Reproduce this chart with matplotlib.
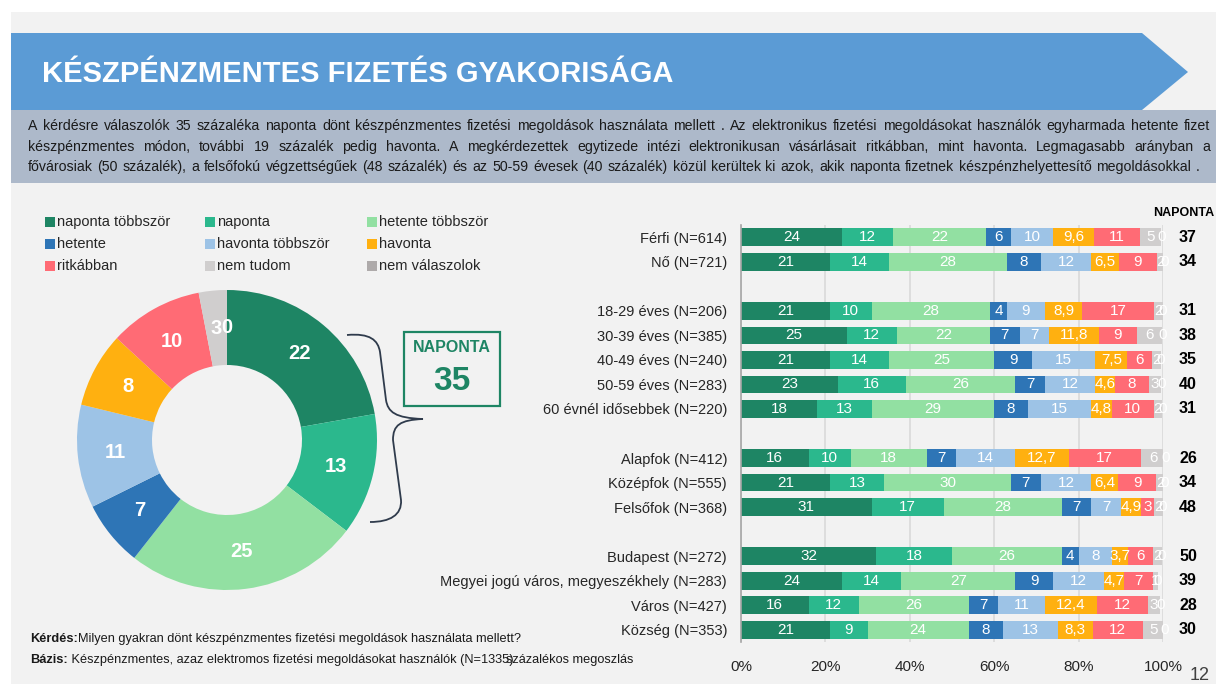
import matplotlib
matplotlib.use('Agg')
import matplotlib.pyplot as plt
from matplotlib import font_manager as fm
from matplotlib.patches import Rectangle, Polygon, PathPatch
from matplotlib.path import Path
from matplotlib.transforms import blended_transform_factory
import numpy as np

# ---------------- data ----------------
series_names = ['naponta többször', 'naponta', 'hetente többször',
                'hetente', 'havonta többször', 'havonta',
                'ritkábban', 'nem tudom', 'nem válaszolok']
series_colors = ['#1e8564', '#2bb88d', '#92e0a2',
                 '#2e75b6', '#9dc3e6', '#ffb010',
                 '#ff6b75', '#d0cece', '#aeaaaa']

donut_values = [22, 13, 25, 7, 11, 8, 10, 3, 0]
naponta_total = 35

groups = [
    ['Férfi (N=614)', 'Nő (N=721)'],
    ['18-29 éves (N=206)', '30-39 éves (N=385)', '40-49 éves (N=240)',
     '50-59 éves (N=283)', '60 évnél idősebbek (N=220)'],
    ['Alapfok (N=412)', 'Középfok (N=555)', 'Felsőfok (N=368)'],
    ['Budapest (N=272)', 'Megyei jogú város, megyeszékhely (N=283)',
     'Város (N=427)', 'Község (N=353)'],
]
naponta_tobbszor = [24, 21, 21, 25, 21, 23, 18, 16, 21, 31, 32, 24, 16, 21]
naponta = [12, 14, 10, 12, 14, 16, 13, 10, 13, 17, 18, 14, 12, 9]
hetente_tobbszor = [22, 28, 28, 22, 25, 26, 29, 18, 30, 28, 26, 27, 26, 24]
hetente = [6, 8, 4, 7, 9, 7, 8, 7, 7, 7, 4, 9, 7, 8]
havonta_tobbszor = [10, 12, 9, 7, 15, 12, 15, 14, 12, 7, 8, 12, 11, 13]
havonta = [9.6, 6.5, 8.9, 11.8, 7.5, 4.6, 4.8, 12.7, 6.4, 4.9, 3.7, 4.7, 12.4, 8.3]
ritkabban = [11, 9, 17, 9, 6, 8, 10, 17, 9, 3, 6, 7, 12, 12]
nem_tudom = [5, 2, 2, 6, 2, 3, 2, 6, 2, 2, 2, 1, 3, 5]
nem_valaszolok = [0, 0, 0, 0, 0, 0, 0, 0, 0, 0, 0, 0, 0, 0]
naponta_col = [37, 34, 31, 38, 35, 40, 31, 26, 34, 48, 50, 39, 28, 30]
xtick_vals = [0, 20, 40, 60, 80, 100]
xtick_labels = ['0%', '20%', '40%', '60%', '80%', '100%']

title = 'KÉSZPÉNZMENTES FIZETÉS GYAKORISÁGA'
desc_lines = [
    'A kérdésre válaszolók 35 százaléka naponta dönt készpénzmentes fizetési megoldások használata mellett . Az elektronikus fizetési megoldásokat használók egyharmada hetente fizet',
    'készpénzmentes módon, további 19 százalék pedig havonta. A megkérdezettek egytizede intézi elektronikusan vásárlásait ritkábban, mint havonta. Legmagasabb arányban a',
    'fővárosiak (50 százalék), a felsőfokú végzettségűek (48 százalék) és az 50-59 évesek (40 százalék) közül kerültek ki azok, akik naponta fizetnek készpénzhelyettesítő megoldásokkal .',
]

# ---------------- fonts ----------------
names = {f.name for f in fm.fontManager.ttflist}
NARROW = 'Liberation Sans Narrow' if 'Liberation Sans Narrow' in names else 'Liberation Sans'
plt.rcParams['font.family'] = [NARROW, 'DejaVu Sans']
TXT = '#262626'

W, H = 1216, 684
fig = plt.figure(figsize=(W / 100, H / 100), dpi=100, facecolor='white')

ov = fig.add_axes([0, 0, 1, 1], zorder=0)
ov.set_xlim(0, W)
ov.set_ylim(H, 0)
ov.axis('off')

def fx(px):
    return px / W

def fy(py):
    return 1 - py / H

# backgrounds
ov.add_patch(Rectangle((11, 12), W - 11, H - 12, color='#f2f2f2', lw=0))
ov.add_patch(Polygon([(11, 33), (1142, 33), (1188, 72), (1142, 110), (11, 110)],
                     closed=True, color='#5b9bd5', lw=0))
ov.add_patch(Rectangle((11, 110), W - 11, 73, color='#adb9ca', lw=0))
ov.text(42, 74, title, color='white', fontsize=21, fontweight='bold',
        va='center', ha='left')

# justified description
renderer = fig.canvas.get_renderer()
line_y = [126, 147, 167]
line_end = [1210, 1210, 1200]
for line, y, x1 in zip(desc_lines, line_y, line_end):
    words = line.split(' ')
    objs = [ov.text(0, y, w, fontsize=10.2, color='#1a1a1a', va='center', ha='left')
            for w in words]
    widths = [o.get_window_extent(renderer).width for o in objs]
    x0 = 28
    gap = (x1 - x0 - sum(widths)) / (len(words) - 1)
    x = x0
    for o, wd in zip(objs, widths):
        o.set_x(x)
        x += wd + gap

# legend
leg_cols = [45, 205, 367]
leg_rows = [222, 244, 266]
for i, (nm, col) in enumerate(zip(series_names, series_colors)):
    r, c = divmod(i, 3)
    ov.add_patch(Rectangle((leg_cols[c], leg_rows[r] - 5), 10, 10, color=col, lw=0))
    ov.text(leg_cols[c] + 12, leg_rows[r], nm, fontsize=10.5, color=TXT,
            va='center', ha='left')

# ---------------- donut ----------------
dax = fig.add_axes([fx(77), fy(590), 300 / W, 300 / H], zorder=2)
wedges, _ = dax.pie(donut_values, colors=series_colors, startangle=90,
                    counterclock=False, radius=1,
                    wedgeprops=dict(width=0.5, linewidth=0))
dax.set_xlim(-1, 1)
dax.set_ylim(-1, 1)
dax.set_aspect('equal')
dax.axis('off')
for w, v in zip(wedges, donut_values):
    ang = np.deg2rad((w.theta1 + w.theta2) / 2)
    dax.text(0.75 * np.cos(ang), 0.75 * np.sin(ang), str(v), color='white',
             fontsize=14.5, fontweight='bold', ha='center', va='center')

# brace
verts = [(347, 335), (370, 333), (378, 340), (380, 352),
         (386, 400),
         (388, 412), (395, 418), (423, 419),
         (400, 420), (393, 425), (393, 440),
         (401, 500),
         (402, 515), (390, 522), (370, 522)]
codes = [Path.MOVETO, Path.CURVE4, Path.CURVE4, Path.CURVE4,
         Path.LINETO,
         Path.CURVE4, Path.CURVE4, Path.CURVE4,
         Path.CURVE4, Path.CURVE4, Path.CURVE4,
         Path.LINETO,
         Path.CURVE4, Path.CURVE4, Path.CURVE4]
ov.add_patch(PathPatch(Path(verts, codes), fill=False, edgecolor='#2f3b4c', lw=1.3))

ov.add_patch(Rectangle((404, 332), 96, 74, fill=False, edgecolor='#1e8564', lw=1.6))
ov.text(452, 348, 'NAPONTA', color='#1e8564', fontsize=11.5, fontweight='bold',
        ha='center', va='center')
ov.text(452, 382, str(naponta_total), color='#1e8564', fontsize=24, fontweight='bold',
        ha='center', va='center')

# footer
FT = 9.2
t1 = ov.text(30, 639, 'Kérdés:', fontsize=FT, fontweight='bold', color='#1a1a1a',
             va='center', ha='left')
ov.annotate('Milyen gyakran dönt készpénzmentes fizetési megoldások használata mellett?',
            xy=(1, 0), xycoords=t1, va='bottom', ha='left', fontsize=FT, color='#1a1a1a')
t2 = ov.text(30, 660, 'Bázis:', fontsize=FT, fontweight='bold', color='#1a1a1a',
             va='center', ha='left')
t3 = ov.annotate(' Készpénzmentes, azaz elektromos fizetési megoldásokat használók (N=1335)',
                 xy=(1, 0), xycoords=t2, va='bottom', ha='left', fontsize=FT,
                 color='#1a1a1a')
ov.annotate('százalékos megoszlás', xy=(1, 0), xycoords=t3, xytext=(-5, 0),
            textcoords='offset points', va='bottom', ha='left', fontsize=FT,
            color='#1a1a1a')
ov.text(1200, 676, '12', fontsize=13, color='#404040', ha='center', va='center')

# ---------------- bars ----------------
cats, ypos = [], []
p = 0
for g in groups:
    for c in g:
        cats.append(c)
        ypos.append(p)
        p += 1
    p += 1
ymax = ypos[-1]

bax = fig.add_axes([fx(741), fy(642), (1163 - 741) / W, (642 - 225) / H], zorder=2)
bax.set_facecolor('none')
series = [naponta_tobbszor, naponta, hetente_tobbszor, hetente, havonta_tobbszor,
          havonta, ritkabban, nem_tudom, nem_valaszolok]
left = np.zeros(len(cats))
for vals, col in zip(series, series_colors):
    vals = np.array(vals, dtype=float)
    bax.barh(ypos, vals, left=left, height=0.72, color=col, lw=0, zorder=2)
    for y, l, v in zip(ypos, left, vals):
        bax.text(l + v / 2, y, f'{v:g}'.replace('.', ','), color='white', fontsize=11,
                 ha='center', va='center', zorder=3, clip_on=False)
    left += vals

bax.set_xlim(0, 100)
bax.set_ylim(ymax + 0.5, -0.5)
bax.set_xticks(xtick_vals, xtick_labels)
bax.set_yticks(ypos, cats)
bax.tick_params(axis='x', length=0, labelsize=11, colors=TXT, pad=13)
bax.tick_params(axis='y', length=0, labelsize=10.5, colors=TXT, pad=10)
for s in ['top', 'right', 'bottom']:
    bax.spines[s].set_visible(False)
bax.spines['left'].set_color('#a6a6a6')
bax.spines['left'].set_linewidth(1.2)
bax.xaxis.grid(True, color='#d9d9d9', lw=1.2, zorder=0)
bax.set_axisbelow(True)

tr = blended_transform_factory(fig.transFigure, bax.transData)
fig.text(fx(1153), fy(213), 'NAPONTA', fontsize=9, fontweight='bold', color='black',
         ha='left', va='center')
for y, v in zip(ypos, naponta_col):
    fig.text(fx(1188), y, str(v), transform=tr, fontsize=11.5, fontweight='bold',
             color='black', ha='center', va='center')

fig.savefig('out.png', dpi=100, facecolor=fig.get_facecolor())
